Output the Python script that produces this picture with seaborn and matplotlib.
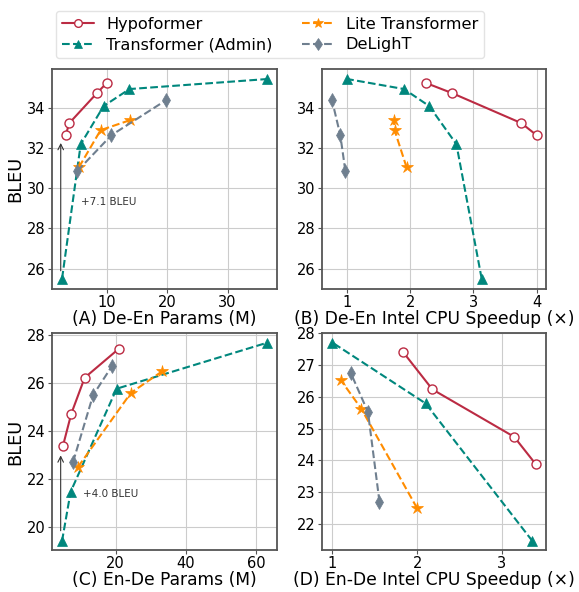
import matplotlib
matplotlib.use("Agg")
import matplotlib.pyplot as plt
import seaborn as sns
import pandas as pd

sns.set_style("whitegrid")
plt.rcParams['font.family'] = ['DejaVu Sans']
plt.rcParams['text.color'] = 'black'
plt.rcParams['axes.labelcolor'] = 'black'
plt.rcParams['xtick.color'] = 'black'
plt.rcParams['ytick.color'] = 'black'

series_names = ["Hypoformer", "Transformer (Admin)", "Lite Transformer", "DeLighT"]

# (A) De-En params vs BLEU
deen_params = {
    "Hypoformer": [3.1, 3.7, 8.3, 9.9],
    "Transformer (Admin)": [2.5, 5.6, 9.4, 13.7, 36.6],
    "Lite Transformer": [5.3, 8.9, 13.8],
    "DeLighT": [5.05, 10.7, 19.7],
}
deen_bleu = {
    "Hypoformer": [32.65, 33.25, 34.75, 35.25],
    "Transformer (Admin)": [25.5, 32.2, 34.1, 34.95, 35.45],
    "Lite Transformer": [31.05, 32.9, 33.4],
    "DeLighT": [30.87, 32.65, 34.38],
}
# (B) De-En speedup (same BLEU values as A)
deen_speed = {
    "Hypoformer": [4.0, 3.76, 2.66, 2.25],
    "Transformer (Admin)": [3.13, 2.73, 2.30, 1.90, 1.0],
    "Lite Transformer": [1.94, 1.75, 1.74],
    "DeLighT": [0.97, 0.89, 0.76],
}
# (C) En-De params vs BLEU
ende_params = {
    "Hypoformer": [5.0, 7.4, 11.2, 21.0],
    "Transformer (Admin)": [4.75, 7.2, 20.3, 63.1],
    "Lite Transformer": [9.3, 24.4, 33.3],
    "DeLighT": [7.9, 13.6, 19.0],
}
ende_bleu = {
    "Hypoformer": [23.37, 24.73, 26.23, 27.45],
    "Transformer (Admin)": [19.4, 21.46, 25.77, 27.69],
    "Lite Transformer": [22.5, 25.6, 26.5],
    "DeLighT": [22.71, 25.5, 26.72],
}
# (D) En-De speedup
ende_speed = {
    "Hypoformer": [3.40, 3.145, 2.18, 1.835],
    "Transformer (Admin)": [3.36, 2.10, 1.0],
    "Lite Transformer": [2.0, 1.34, 1.10],
    "DeLighT": [1.556, 1.42, 1.22],
}
ende_speed_bleu = {
    "Hypoformer": [23.88, 24.74, 26.23, 27.40],
    "Transformer (Admin)": [21.47, 25.79, 27.70],
    "Lite Transformer": [22.5, 25.63, 26.52],
    "DeLighT": [22.70, 25.52, 26.73],
}

styles = {
    "Hypoformer": dict(color="#bb2b43", linestyle="-", marker="o", markersize=6.5,
                       markerfacecolor="white", markeredgecolor="#bb2b43", markeredgewidth=1.0),
    "Transformer (Admin)": dict(color="#00877d", linestyle="--", marker="^", markersize=6.5,
                                markeredgecolor="#00877d", markeredgewidth=0.5),
    "Lite Transformer": dict(color="#ff8c00", linestyle="--", marker="*", markersize=9,
                             markeredgecolor="#ff8c00", markeredgewidth=0.5),
    "DeLighT": dict(color="#6f7f8f", linestyle="--", marker="d", markersize=7.5,
                    markeredgecolor="#6f7f8f", markeredgewidth=0.5),
}

fig = plt.figure(figsize=(5.79, 5.92), dpi=100)
W, H = 579, 592
def ax_at(l, r, t, b):
    return fig.add_axes([l / W, 1 - b / H, (r - l) / W, (b - t) / H])

axA = ax_at(52, 277, 69, 289)
axB = ax_at(322, 546, 69, 289)
axC = ax_at(52, 277, 333, 550)
axD = ax_at(322, 546, 333, 550)

def draw(ax, xs, ys, order=series_names):
    for name in order:
        df = pd.DataFrame({"x": xs[name], "y": ys[name]})
        st = dict(styles[name])
        sns.lineplot(data=df, x="x", y="y", ax=ax, sort=False, label=name,
                     linewidth=1.5, **st)
    ax.set_ylabel("")

draw(axA, deen_params, deen_bleu)
draw(axB, deen_speed, deen_bleu)
draw(axC, ende_params, ende_bleu)
draw(axD, ende_speed, ende_speed_bleu)

axA.set_xlim(0.83, 38.2); axA.set_ylim(24.98, 35.95)
axB.set_xlim(0.60, 4.15); axB.set_ylim(24.98, 35.95)
axC.set_xlim(1.9, 66); axC.set_ylim(19.03, 28.1)
axD.set_xlim(0.878, 3.52); axD.set_ylim(21.19, 28.0)

axA.set_xticks([10, 20, 30]); axA.set_yticks([26, 28, 30, 32, 34])
axB.set_xticks([1, 2, 3, 4]); axB.set_yticks([26, 28, 30, 32, 34])
axC.set_xticks([20, 40, 60]); axC.set_yticks([20, 22, 24, 26, 28])
axD.set_xticks([1, 2, 3]); axD.set_yticks([22, 23, 24, 25, 26, 27, 28])

lab_fs = 12.3
axA.set_xlabel("(A) De-En Params (M)", fontsize=lab_fs, labelpad=0)
axB.set_xlabel("(B) De-En Intel CPU Speedup (×)", fontsize=lab_fs, labelpad=0)
axC.set_xlabel("(C) En-De Params (M)", fontsize=lab_fs, labelpad=0)
axD.set_xlabel("(D) En-De Intel CPU Speedup (×)", fontsize=lab_fs, labelpad=0)
axA.set_ylabel("BLEU", fontsize=12.8, labelpad=2)
axC.set_ylabel("BLEU", fontsize=12.8, labelpad=2)

for ax in (axA, axB, axC, axD):
    ax.tick_params(axis="both", labelsize=10.5, length=3, width=0.8, color="#555555",
                   labelcolor="black", pad=1.5, bottom=True, left=True)
    for s in ax.spines.values():
        s.set_color("#555555"); s.set_linewidth(1.3)
    ax.grid(True, color="#cccccc", linewidth=0.8)
    ax.get_legend().remove()

axA.annotate("", xy=(2.28, 32.4), xytext=(2.28, 25.75),
             arrowprops=dict(arrowstyle="->", color="#333333", lw=0.8))
axA.text(5.6, 29.3, "+7.1 BLEU", fontsize=7.5, va="center", ha="left", color="#333333")
axC.annotate("", xy=(4.37, 23.1), xytext=(4.37, 19.72),
             arrowprops=dict(arrowstyle="->", color="#333333", lw=0.8))
axC.text(10.7, 21.39, "+4.0 BLEU", fontsize=7.5, va="center", ha="left", color="#333333")

handles, labels = axA.get_legend_handles_labels()
leg = fig.legend(handles, labels,
                 loc="upper center", bbox_to_anchor=(270 / W, 1 - 3 / H), ncol=2,
                 fontsize=11.6, frameon=True, columnspacing=1.8, handlelength=2.0,
                 handletextpad=0.75, borderpad=0.35, labelspacing=0.35, markerscale=0.85)
leg.get_frame().set_edgecolor("#dddddd")

fig.savefig("out.png", dpi=100)
